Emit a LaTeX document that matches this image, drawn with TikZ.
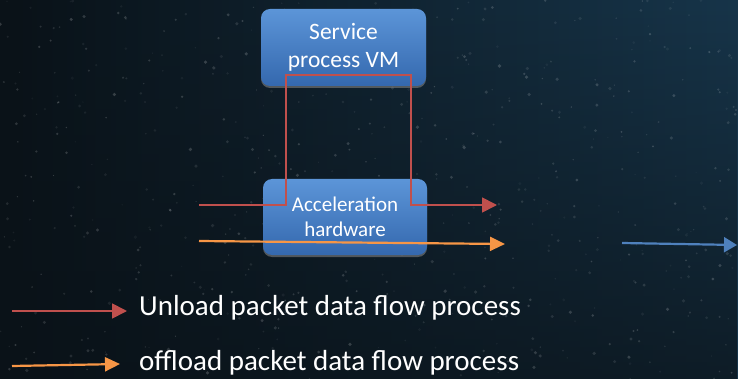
\documentclass[tikz,border=0pt]{standalone}
\usepackage{fontspec}
\setmainfont{Carlito}
\usetikzlibrary{arrows.meta,shadows,fadings}
\definecolor{bgleft}{HTML}{0A1218}
\definecolor{bgright}{HTML}{17354A}
\definecolor{boxtop}{HTML}{5C95D8}
\definecolor{boxbot}{HTML}{3468AE}
\definecolor{flowred}{HTML}{C0504D}
\definecolor{floworange}{HTML}{F79646}
\definecolor{flowblue}{HTML}{4F81BD}
\tikzset{
  box/.style={rounded corners=9pt, top color=boxtop, bottom color=boxbot, draw=none,
    text=white, align=center, inner sep=0pt,
    drop shadow={shadow xshift=0pt, shadow yshift=-2pt, opacity=0.6}},
  redflow/.style={draw=flowred, line width=1.8pt, -{Triangle[length=15pt,width=15pt]}},
  orangeflow/.style={draw=floworange, line width=2.2pt, -{Triangle[length=15pt,width=14pt]}},
  blueflow/.style={draw=flowblue, line width=2.2pt, -{Triangle[length=13pt,width=15pt]}},
  legendtext/.style={text=white, anchor=west, inner sep=0pt, font=\fontsize{29}{34}\selectfont}
}
\begin{document}
\begin{tikzpicture}[x=1pt,y=-1pt]
\useasboundingbox (0,0) rectangle (738,379);
\shade[left color=bgleft, right color=bgright] (0,0) rectangle (738,379);
\fill[bgleft, opacity=0.7, path fading=north] (0,0) rectangle (738,379);
\pgfmathsetseed{11}
\foreach \i in {1,...,600}{
  \pgfmathsetmacro{\xx}{rnd*738}
  \pgfmathsetmacro{\yy}{rnd*379}
  \pgfmathsetmacro{\oo}{0.04+rnd*0.14}
  \pgfmathsetmacro{\rr}{0.6+rnd*1.2}
  \fill[white, opacity=\oo] (\xx,\yy) circle (\rr pt);
}
% boxes
\node[box, minimum width=165pt, minimum height=77pt, font=\fontsize{23.5}{28}\selectfont]
  (svc) at (343.5,47.5) {Service\\process VM};
\node[box, minimum width=164pt, minimum height=76pt, font=\fontsize{21}{25}\selectfont]
  (acc) at (345,217) {Acceleration\\hardware};
% flows
\coordinate (rin) at (199,205);
\coordinate (rout) at (497,205);
\draw[redflow] (rin) -- (286,205) -- (286,75) -- (411,75) -- (411,205) -- (rout);
\coordinate (oin) at (199,241);
\coordinate (oout) at (505,244);
\draw[orangeflow] (oin) -- (oout);
\coordinate (bin) at (622,243);
\coordinate (bout) at (737,245);
\draw[blueflow] (bin) -- (bout);
% legend
\coordinate (l1a) at (12,311);
\coordinate (l1b) at (127,311);
\draw[redflow] (l1a) -- (l1b);
\node[legendtext] (t1) at (139,308) {Unload packet data flow process};
\coordinate (l2a) at (12,366);
\coordinate (l2b) at (120,364);
\draw[orangeflow] (l2a) -- (l2b);
\node[legendtext] (t2) at (139,363) {offload packet data flow process};
\end{tikzpicture}
\end{document}
